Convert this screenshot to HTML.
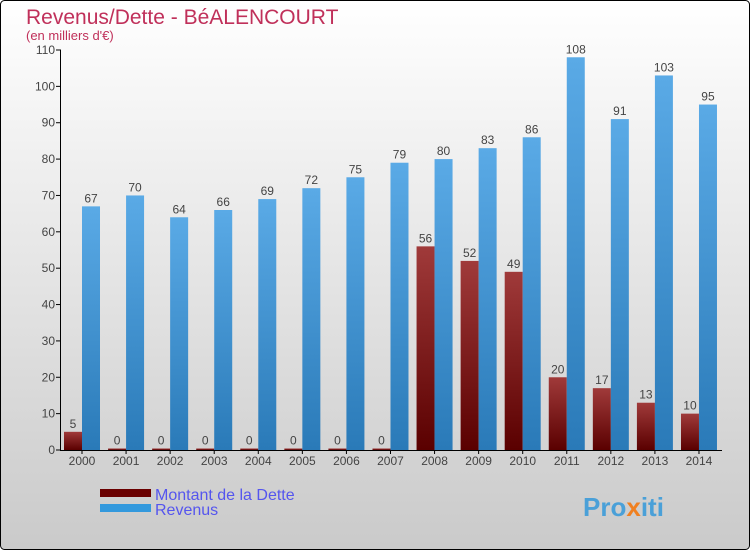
<!DOCTYPE html>
<html><head><meta charset="utf-8"><style>
body{margin:0;width:750px;height:550px;overflow:hidden;font-family:"Liberation Sans",sans-serif}
</style></head><body>
<svg width="750" height="550" xmlns="http://www.w3.org/2000/svg">
<defs>
<linearGradient id="bg" x1="0" y1="0" x2="0" y2="1"><stop offset="0" stop-color="#ffffff"/><stop offset="1" stop-color="#cacaca"/></linearGradient>
<linearGradient id="gr" x1="0" y1="0" x2="0" y2="1"><stop offset="0" stop-color="#a03a3a"/><stop offset="1" stop-color="#5a0000"/></linearGradient>
<linearGradient id="gb" x1="0" y1="0" x2="0" y2="1"><stop offset="0" stop-color="#5aaae6"/><stop offset="1" stop-color="#2a7ab8"/></linearGradient>
</defs>
<rect x="0.5" y="0.5" width="749" height="549" rx="4" fill="url(#bg)" stroke="#000"/>
<text x="26" y="24" font-size="21" fill="#c0305a">Revenus/Dette - BéALENCOURT</text>
<text x="26" y="40" font-size="13" fill="#c0305a">(en milliers d'€)</text>
<g id="plot"></g>
<g>
<rect x="100" y="489" width="51" height="8" fill="#6a0000"/>
<text x="155" y="500" font-size="16" fill="#5555ee">Montant de la Dette</text>
<rect x="100" y="504" width="51" height="8" fill="#3399dd"/>
<text x="155" y="515" font-size="16" fill="#5555ee">Revenus</text>
</g>
<text x="583" y="516" font-size="26" font-weight="bold" fill="#4aa0d8">Pro<tspan fill="#f08020">x</tspan>iti</text>
</svg>
<script>
const years=["2000","2001","2002","2003","2004","2005","2006","2007","2008","2009","2010","2011","2012","2013","2014"];
const dette=[5,0,0,0,0,0,0,0,56,52,49,20,17,13,10];
const revenus=[67,70,64,66,69,72,75,79,80,83,86,108,91,103,95];
const yTicks=[0,10,20,30,40,50,60,70,80,90,100,110];
const NS="http://www.w3.org/2000/svg";
const g=document.getElementById('plot');
const y0=450,yMax=110,yTop=50;
const y=v=>y0-(v/yMax)*(y0-yTop);
const xc=i=>82+i*44.07;
const bw=18;
function mk(t,a){const e=document.createElementNS(NS,t);for(const k in a)e.setAttribute(k,a[k]);g.appendChild(e);return e;}
yTicks.forEach(t=>{
 const l=mk('line',{x1:56,x2:61,y1:y(t),y2:y(t),stroke:'#000'});
 
 
 const tx=mk('text',{x:55,y:y(t)+4,'font-size':12,fill:'#444','text-anchor':'end'});
 tx.textContent=t;
 
 
});
years.forEach((yr,i)=>{
 const c=xc(i);
 const hd=Math.max(y0-y(dette[i]),1.5);
 const r1=mk('rect',{x:c-bw,y:y0-hd,width:bw,height:hd,fill:'url(#gr)'});
 
 
 const t1=mk('text',{x:c-bw/2,y:y0-hd-4,'font-size':12,fill:'#444','text-anchor':'middle'});
 t1.textContent=dette[i];
 
 
 const r2=mk('rect',{x:c,y:y(revenus[i]),width:bw,height:y0-y(revenus[i]),fill:'url(#gb)'});
 
 
 const t2=mk('text',{x:c+bw/2,y:y(revenus[i])-4,'font-size':12,fill:'#444','text-anchor':'middle'});
 t2.textContent=revenus[i];
 
 
 const tk=mk('line',{x1:c,x2:c,y1:y0,y2:y0+4,stroke:'#000'});
 
 
 const xl=mk('text',{x:c,y:465,'font-size':12,fill:'#444','text-anchor':'middle'});
 xl.textContent=yr;
 
 
});
const ya=mk('line',{x1:60.5,x2:60.5,y1:yTop,y2:y0,stroke:'#000'});


const xa=mk('line',{x1:60,x2:722,y1:y0+0.5,y2:y0+0.5,stroke:'#000'});


</script>
</body></html>
